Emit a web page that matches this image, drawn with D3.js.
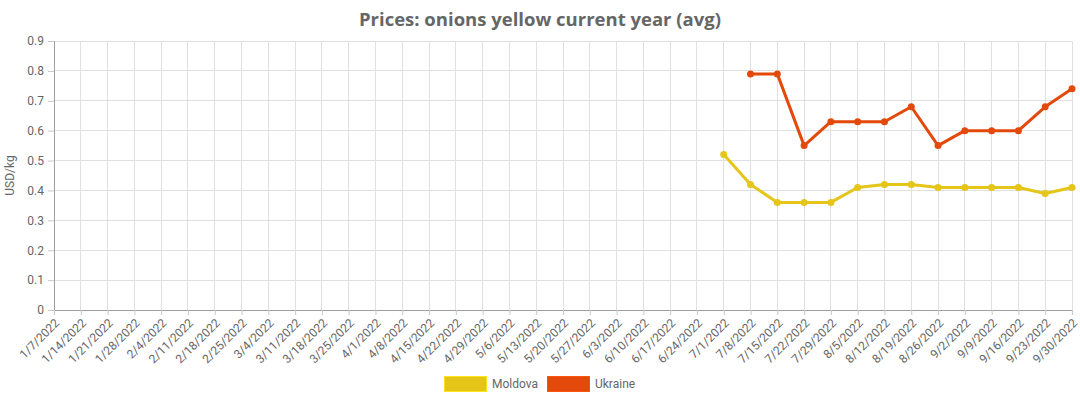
<!DOCTYPE html>
<html><head><meta charset="utf-8">
<script src="https://cdn.jsdelivr.net/npm/d3@7"></script>
<style>body{margin:0;background:#fff;}svg{display:block;}</style>
</head><body>
<svg id="c" width="1080" height="400"></svg>
<script>
const categories = ["1/7/2022","1/14/2022","1/21/2022","1/28/2022","2/4/2022","2/11/2022","2/18/2022","2/25/2022","3/4/2022","3/11/2022","3/18/2022","3/25/2022","4/1/2022","4/8/2022","4/15/2022","4/22/2022","4/29/2022","5/6/2022","5/13/2022","5/20/2022","5/27/2022","6/3/2022","6/10/2022","6/17/2022","6/24/2022","7/1/2022","7/8/2022","7/15/2022","7/22/2022","7/29/2022","8/5/2022","8/12/2022","8/19/2022","8/26/2022","9/2/2022","9/9/2022","9/16/2022","9/23/2022","9/30/2022"];
const moldovaDates = ["7/1/2022","7/8/2022","7/15/2022","7/22/2022","7/29/2022","8/5/2022","8/12/2022","8/19/2022","8/26/2022","9/2/2022","9/9/2022","9/16/2022","9/23/2022","9/30/2022"];
const moldovaValues = [0.52,0.42,0.36,0.36,0.36,0.41,0.42,0.42,0.41,0.41,0.41,0.41,0.39,0.41];
const ukraineDates = ["7/8/2022","7/15/2022","7/22/2022","7/29/2022","8/5/2022","8/12/2022","8/19/2022","8/26/2022","9/2/2022","9/9/2022","9/16/2022","9/23/2022","9/30/2022"];
const ukraineValues = [0.79,0.79,0.55,0.63,0.63,0.63,0.68,0.55,0.60,0.60,0.60,0.68,0.74];
const yTicks = [0,0.1,0.2,0.3,0.4,0.5,0.6,0.7,0.8,0.9];
const seriesNames = ["Moldova","Ukraine"];
const seriesColors = ["#e5c518","#e3490b"];

const svg = d3.select("#c");
const m = {l:54, r:8, t:41, b:90};
const W = 1080, H = 400;
const x = d3.scalePoint().domain(categories).range([m.l, W - m.r]);
const y = d3.scaleLinear().domain([0,0.9]).range([H - m.b, m.t]);

// grid
const g = svg.append("g");
g.selectAll(".vg").data(categories).join("line")
  .attr("x1", d=>x(d)).attr("x2", d=>x(d)).attr("y1", m.t).attr("y2", y(0))
  .attr("stroke","#e0e0e0").attr("stroke-width",1).attr("shape-rendering","crispEdges");
g.selectAll(".hg").data(yTicks).join("line")
  .attr("x1", m.l).attr("x2", W - m.r).attr("y1", d=>y(d)).attr("y2", d=>y(d))
  .attr("stroke","#e0e0e0").attr("stroke-width",1).attr("shape-rendering","crispEdges");

// axes
const yAxis = svg.append("g").attr("transform",`translate(${m.l},0)`)
  .call(d3.axisLeft(y).tickValues(yTicks).tickFormat(d3.format("~g")).tickSize(6).tickPadding(4));
const xAxis = svg.append("g").attr("transform",`translate(0,${y(0)})`)
  .call(d3.axisBottom(x).tickSize(5).tickPadding(3));
[yAxis,xAxis].forEach(a=>{
  a.select(".domain").attr("stroke","#9e9e9e");
  a.selectAll(".tick line").attr("stroke","#c8c8c8");
  a.selectAll("text").attr("fill","#666").style("font-family","Roboto, sans-serif").style("font-size","12px");
});
xAxis.selectAll("text").attr("text-anchor","end").attr("dy","0.35em")
  .attr("transform","translate(-3,5) rotate(-45)");

// y label
svg.append("text").attr("transform",`translate(14,${(m.t + y(0))/2}) rotate(-90)`)
  .attr("text-anchor","middle").attr("fill","#666")
  .style("font-family","Roboto, sans-serif").style("font-size","12px").text("USD/kg");

// title
svg.append("text").attr("x",540).attr("y",26).attr("text-anchor","middle")
  .attr("fill","#666").style("font-family","'Open Sans', sans-serif").style("font-weight","700")
  .style("font-size","18.5px").text("Prices: onions yellow current year (avg)");

// series
const series = [
  {name:seriesNames[0], color:seriesColors[0], data: moldovaDates.map((d,i)=>({d, v:moldovaValues[i]}))},
  {name:seriesNames[1], color:seriesColors[1], data: ukraineDates.map((d,i)=>({d, v:ukraineValues[i]}))}
];
const line = d3.line().x(p=>x(p.d)).y(p=>y(p.v));
series.forEach(s=>{
  svg.append("path").datum(s.data).attr("d", line).attr("fill","none")
    .attr("stroke", s.color).attr("stroke-width",3).attr("stroke-linejoin","round");
  svg.selectAll(null).data(s.data).join("circle")
    .attr("cx", p=>x(p.d)).attr("cy", p=>y(p.v)).attr("r",3.5).attr("fill", s.color);
});

// legend
const leg = [{x:444},{x:547}];
series.forEach((s,i)=>{
  svg.append("rect").attr("x",leg[i].x+0.5).attr("y",376.5).attr("width",42).attr("height",15)
    .attr("fill", s.color).attr("stroke", d3.color(s.color).brighter(0.4)).attr("stroke-width",1);
  svg.append("text").attr("x",leg[i].x+48).attr("y",388).attr("fill","#666")
    .style("font-family","Roboto, sans-serif").style("font-size","12px").text(s.name);
});
</script>
</body></html>
